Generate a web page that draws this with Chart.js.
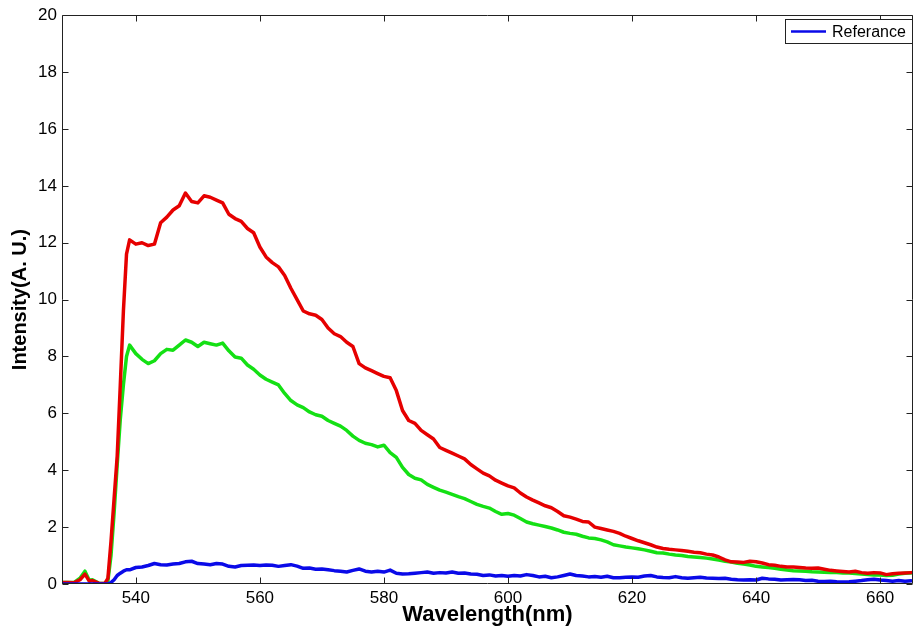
<!DOCTYPE html>
<html>
<head>
<meta charset="utf-8">
<script src="https://cdn.jsdelivr.net/npm/chart.js@4.4.1/dist/chart.umd.min.js"></script>
<style>
  html, body { margin: 0; padding: 0; background: #ffffff; }
  #wrap { position: relative; width: 914px; height: 629px; }
</style>
</head>
<body>
<div id="wrap"><canvas id="spectrum" width="914" height="629"></canvas></div>
<script>
// Emission spectra, intensity (A. U.) against wavelength (nm)
const wavelengths = [
  528, 529, 530, 531, 531.8, 532.5, 533, 534, 535, 535.5, 536, 536.5, 537, 537.5, 538, 538.5,
  539, 540, 541, 542, 543, 544, 545, 546, 547, 548,
  549, 550, 551, 552, 553, 554, 555, 556, 557, 558,
  559, 560, 561, 562, 563, 564, 565, 566, 567, 568,
  569, 570, 571, 572, 573, 574, 575, 576, 577, 578,
  579, 580, 581, 582, 583, 584, 585, 586, 587, 588,
  589, 590, 591, 592, 593, 594, 595, 596, 597, 598,
  599, 600, 601, 602, 603, 604, 605, 606, 607, 608,
  609, 610, 611, 612, 613, 614, 615, 616, 617, 618,
  619, 620, 621, 622, 623, 624, 625, 626, 627, 628,
  629, 630, 631, 632, 633, 634, 635, 636, 637, 638,
  639, 640, 641, 642, 643, 644, 645, 646, 647, 648,
  649, 650, 651, 652, 653, 654, 655, 656, 657, 658,
  659, 660, 661, 662, 663, 664, 665
];

const redIntensity = [
  0.05, 0.05, 0.04, 0.15, 0.35, 0.1, 0.12, 0.03, 0.02, 0.2, 1.5, 3.0, 4.5, 7.0, 9.6, 11.6,
  12.1, 11.95, 12.0, 11.9, 11.95, 12.7, 12.9, 13.15, 13.3, 13.75,
  13.45, 13.4, 13.65, 13.6, 13.5, 13.4, 13.0, 12.85, 12.75, 12.5,
  12.35, 11.85, 11.5, 11.3, 11.15, 10.85, 10.4, 10.0, 9.6, 9.5,
  9.45, 9.3, 9.0, 8.8, 8.7, 8.5, 8.35, 7.75, 7.6, 7.5,
  7.4, 7.3, 7.25, 6.8, 6.1, 5.75, 5.65, 5.4, 5.25, 5.1,
  4.8, 4.7, 4.6, 4.5, 4.4, 4.2, 4.05, 3.9, 3.8, 3.65,
  3.55, 3.45, 3.38, 3.2, 3.06, 2.95, 2.85, 2.75, 2.68, 2.55,
  2.4, 2.35, 2.28, 2.2, 2.18, 2.0, 1.95, 1.9, 1.85, 1.78,
  1.68, 1.6, 1.52, 1.45, 1.38, 1.3, 1.25, 1.22, 1.2, 1.18,
  1.15, 1.12, 1.1, 1.05, 1.02, 0.95, 0.85, 0.78, 0.77, 0.76,
  0.8, 0.78, 0.74, 0.68, 0.66, 0.62, 0.6, 0.6, 0.58, 0.56,
  0.55, 0.56, 0.52, 0.48, 0.46, 0.44, 0.42, 0.45, 0.4, 0.38,
  0.4, 0.39, 0.33, 0.36, 0.38, 0.39, 0.4
];

const greenIntensity = [
  0.05, 0.05, 0.05, 0.2, 0.45, 0.12, 0.15, 0.03, 0.02, 0.1, 1.0, 2.5, 4.2, 5.8, 7.0, 8.0,
  8.4, 8.1, 7.9, 7.75, 7.85, 8.1, 8.25, 8.22, 8.4, 8.58,
  8.5, 8.35, 8.5, 8.45, 8.4, 8.47, 8.2, 7.98, 7.94, 7.7,
  7.55, 7.35, 7.2, 7.1, 7.0, 6.7, 6.45, 6.3, 6.2, 6.05,
  5.95, 5.9, 5.75, 5.65, 5.55, 5.4, 5.2, 5.05, 4.95, 4.9,
  4.82, 4.88, 4.62, 4.45, 4.1, 3.85, 3.72, 3.66, 3.5, 3.4,
  3.3, 3.23, 3.15, 3.07, 3.0, 2.9, 2.8, 2.73, 2.67, 2.55,
  2.45, 2.48, 2.42, 2.3, 2.18, 2.12, 2.07, 2.02, 1.97, 1.9,
  1.82, 1.78, 1.75, 1.68, 1.62, 1.6, 1.55, 1.48, 1.38, 1.34,
  1.3, 1.27, 1.24, 1.2, 1.15, 1.1, 1.09, 1.05, 1.02, 1.0,
  0.97, 0.95, 0.93, 0.91, 0.88, 0.84, 0.8, 0.77, 0.73, 0.7,
  0.67, 0.62, 0.6, 0.58, 0.55, 0.52, 0.49, 0.47, 0.46, 0.45,
  0.43, 0.42, 0.41, 0.4, 0.4, 0.39, 0.39, 0.37, 0.35, 0.33,
  0.32, 0.32, 0.3, 0.31, 0.35, 0.38, 0.39
];

const referenceIntensity = [
  0, 0, 0, 0, 0, 0, 0, 0, 0, 0, 0.05, 0.15, 0.3, 0.38, 0.45, 0.5,
  0.5, 0.58, 0.6, 0.65, 0.72, 0.68, 0.67, 0.7, 0.72, 0.78,
  0.8, 0.72, 0.7, 0.68, 0.72, 0.7, 0.62, 0.6, 0.65, 0.66,
  0.67, 0.65, 0.67, 0.66, 0.62, 0.65, 0.68, 0.63, 0.55, 0.56,
  0.52, 0.53, 0.5, 0.47, 0.45, 0.42, 0.48, 0.53, 0.45, 0.42,
  0.45, 0.42, 0.49, 0.38, 0.35, 0.36, 0.38, 0.4, 0.42, 0.38,
  0.4, 0.39, 0.42, 0.38, 0.39, 0.35, 0.34, 0.3, 0.32, 0.28,
  0.3, 0.27, 0.3, 0.28, 0.33, 0.3, 0.25, 0.27, 0.22, 0.25,
  0.3, 0.35, 0.3, 0.28, 0.25, 0.26, 0.24, 0.27, 0.22, 0.22,
  0.24, 0.25, 0.24, 0.28, 0.3, 0.25, 0.23, 0.22, 0.26, 0.22,
  0.2, 0.22, 0.24, 0.21, 0.2, 0.19, 0.2, 0.17, 0.15, 0.14,
  0.15, 0.14, 0.2, 0.18, 0.17, 0.14, 0.15, 0.16, 0.15, 0.12,
  0.13, 0.1, 0.09, 0.1, 0.08, 0.07, 0.08, 0.1, 0.12, 0.15,
  0.17, 0.14, 0.12, 0.1, 0.12, 0.1, 0.11
];

const xTicks = [540, 560, 580, 600, 620, 640, 660];
const yTicks = [0, 2, 4, 6, 8, 10, 12, 14, 16, 18, 20];
const legendLabel = 'Referance';

const toPoints = (vals) => vals.map((v, i) => ({ x: wavelengths[i], y: v }));

const FONT = '"Liberation Sans", Arial, Helvetica, sans-serif';

// Boxed axes with inward ticks on all four sides, plus the boxed legend
const framePlugin = {
  id: 'frame',
  afterDatasetsDraw(chart) {
    const { ctx, chartArea: a, scales } = chart;
    const L = Math.round(a.left) + 0.5, R = Math.round(a.right) - 0.5;
    const T = Math.round(a.top) + 0.5, B = Math.round(a.bottom) - 0.5;
    const tick = 6;
    ctx.save();
    ctx.strokeStyle = '#222222';
    ctx.lineWidth = 1;
    ctx.beginPath();
    ctx.rect(L, T, R - L, B - T);
    xTicks.forEach(v => {
      const px = Math.round(scales.x.getPixelForValue(v)) + 0.5;
      ctx.moveTo(px, B); ctx.lineTo(px, B - tick);
      ctx.moveTo(px, T); ctx.lineTo(px, T + tick);
    });
    yTicks.forEach(v => {
      const py = Math.round(scales.y.getPixelForValue(v)) + 0.5;
      ctx.moveTo(L, py); ctx.lineTo(L + tick, py);
      ctx.moveTo(R, py); ctx.lineTo(R - tick, py);
    });
    ctx.stroke();

    // legend box (reference series only)
    const ds = chart.data.datasets.find(d => d.label === legendLabel);
    const bx = 785.5, by = 19.5, bw = 127, bh = 24;
    ctx.fillStyle = '#ffffff';
    ctx.fillRect(bx, by, bw, bh);
    ctx.strokeStyle = '#222222';
    ctx.strokeRect(bx, by, bw, bh);
    ctx.strokeStyle = ds.borderColor;
    ctx.lineWidth = 2.5;
    ctx.beginPath();
    ctx.moveTo(791, by + bh / 2);
    ctx.lineTo(826, by + bh / 2);
    ctx.stroke();
    ctx.fillStyle = '#000000';
    ctx.font = '16px ' + FONT;
    ctx.textBaseline = 'middle';
    ctx.textAlign = 'left';
    ctx.fillText(ds.label, 832, by + bh / 2 + 1);
    ctx.restore();
  }
};

new Chart(document.getElementById('spectrum'), {
  type: 'line',
  data: {
    datasets: [
      {
        label: legendLabel,
        data: toPoints(referenceIntensity),
        borderColor: '#0a0ae8',
        borderWidth: 3.5,
        order: 0
      },
      {
        label: 'Red',
        data: toPoints(redIntensity),
        borderColor: '#e60000',
        borderWidth: 3.5,
        order: 1
      },
      {
        label: 'Green',
        data: toPoints(greenIntensity),
        borderColor: '#14e014',
        borderWidth: 3.5,
        order: 2
      }
    ]
  },
  options: {
    responsive: false,
    animation: false,
    devicePixelRatio: 1,
    layout: { padding: { top: 15, right: 1, left: 0, bottom: 0 } },
    elements: {
      point: { radius: 0, hoverRadius: 0 },
      line: { tension: 0, fill: false, borderJoinStyle: 'round', borderCapStyle: 'round' }
    },
    plugins: {
      legend: { display: false },
      tooltip: { enabled: false }
    },
    scales: {
      x: {
        type: 'linear',
        min: 528.1,
        max: 665.3,
        afterBuildTicks: s => { s.ticks = xTicks.map(v => ({ value: v })); },
        afterFit: s => { s.height = 45; },
        grid: { display: false, drawTicks: false },
        border: { display: false },
        ticks: {
          color: '#000000',
          font: { family: FONT, size: 17 },
          padding: 4,
          maxRotation: 0,
          autoSkip: false
        },
        title: {
          display: true,
          text: 'Wavelength(nm)',
          color: '#000000',
          font: { family: FONT, size: 22, weight: 'bold' },
          padding: { top: 0, bottom: 1 }
        }
      },
      y: {
        type: 'linear',
        min: 0,
        max: 20,
        afterBuildTicks: s => { s.ticks = yTicks.map(v => ({ value: v })); },
        afterFit: s => { s.width = 62; },
        grid: { display: false, drawTicks: false },
        border: { display: false },
        ticks: {
          color: '#000000',
          font: { family: FONT, size: 17 },
          padding: 5,
          autoSkip: false
        },
        title: {
          display: true,
          text: 'Intensity(A. U.)',
          color: '#000000',
          font: { family: FONT, size: 20, weight: 'bold' },
          padding: { top: 8, bottom: 0 }
        }
      }
    }
  },
  plugins: [framePlugin]
});
</script>
</body>
</html>
